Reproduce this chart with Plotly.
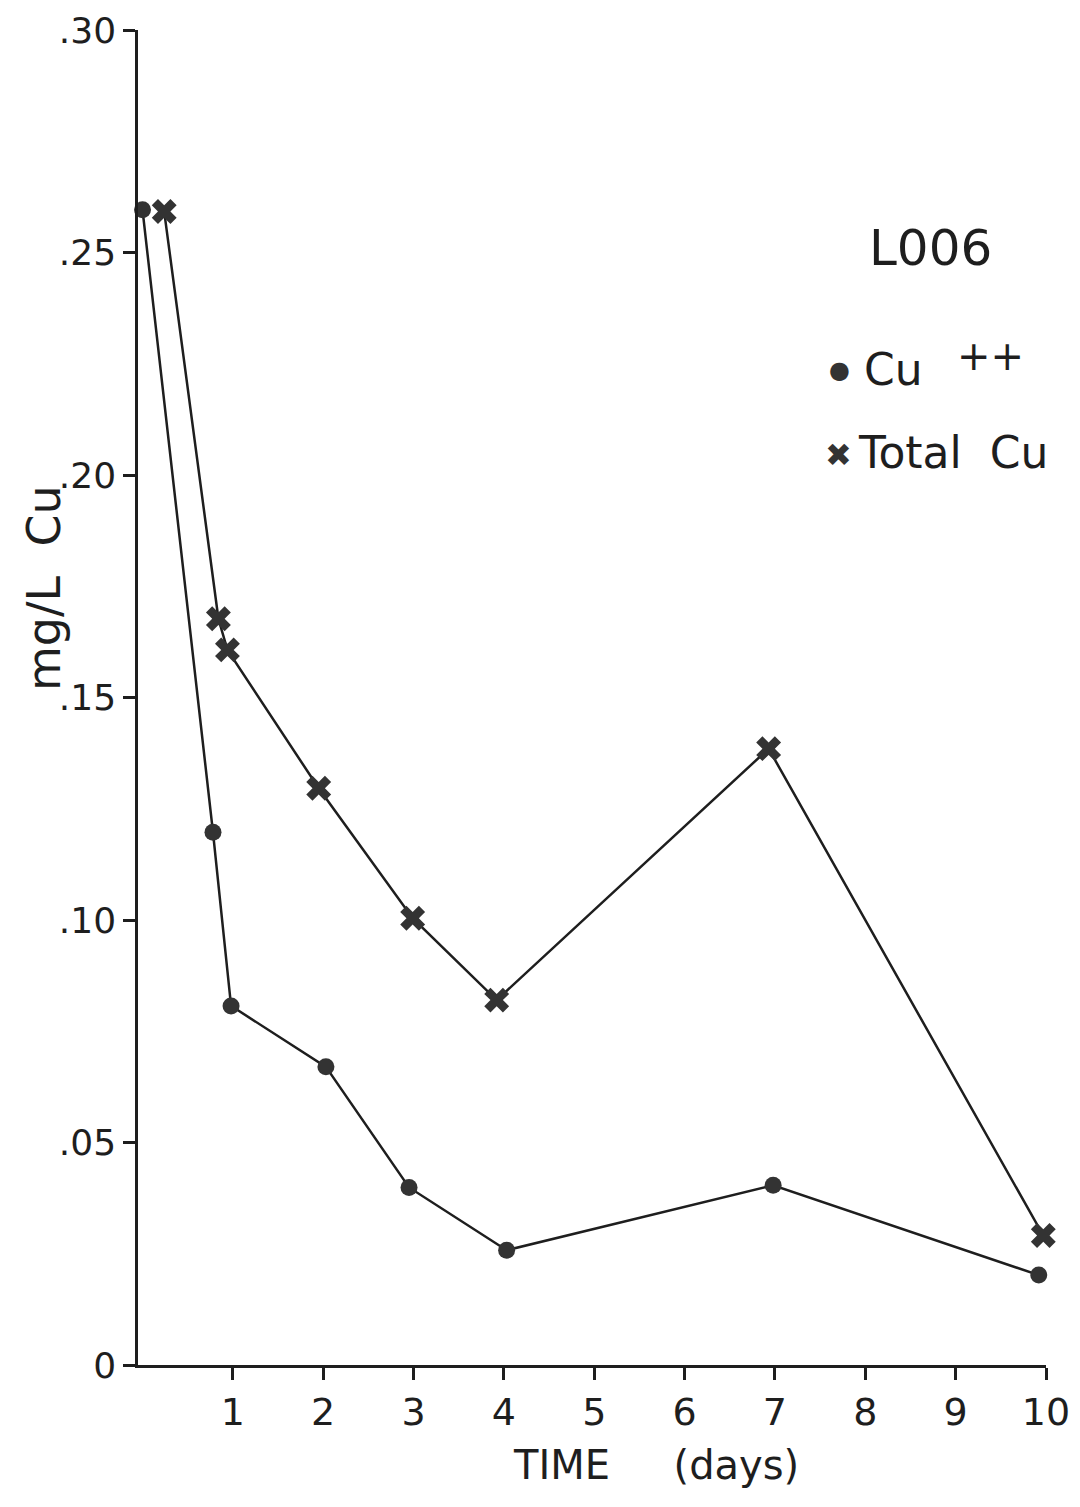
import plotly.graph_objects as go

# ---- data ----
cu_x = [0.0, 0.78, 0.98, 2.03, 2.95, 4.03, 6.98, 9.92]
cu_y = [0.2596, 0.1197, 0.0807, 0.0670, 0.0399, 0.0258, 0.0404, 0.0202]

tot_x = [0.24, 0.84, 0.94, 1.95, 2.99, 3.92, 6.93, 9.97]
tot_y = [0.2592, 0.1677, 0.1607, 0.1296, 0.1004, 0.0820, 0.1385, 0.0291]

x_ticks = [1, 2, 3, 4, 5, 6, 7, 8, 9, 10]
x_ticktext = ["1", "2", "3", "4", "5", "6", "7", "8", "9", "10"]
y_ticks = [0, 0.05, 0.10, 0.15, 0.20, 0.25, 0.30]
y_ticktext = ["0", ".05", ".10", ".15", ".20", ".25", ".30"]

# page body has an 8px margin; size the figure so it fits in the window
OFF = 8
W, H = 1062, 1484
PL, PR, PT, PB = 138, 1046, 30, 1365   # desired plot box in page pixels
L, R, T, B = PL - OFF, OFF + W - PR, PT - OFF, OFF + H - PB
FONT = "DejaVu Sans"
INK = "#1e1e1e"
MARK = "#333333"


def px(xp):
    return (xp - PL) / (PR - PL)


def py(yp):
    return (PB - yp) / (PB - PT)


fig = go.Figure()

fig.add_trace(go.Scatter(
    x=cu_x, y=cu_y, mode="lines+markers", name="Cu ++",
    line=dict(color=INK, width=2.5),
    marker=dict(symbol="circle", size=17, color=MARK, line=dict(width=0)),
    showlegend=False, cliponaxis=False,
))
fig.add_trace(go.Scatter(
    x=tot_x, y=tot_y, mode="lines+markers", name="Total Cu",
    line=dict(color=INK, width=2.5),
    marker=dict(symbol="x", size=22, color=MARK, line=dict(width=0)),
    showlegend=False, cliponaxis=False,
))

fig.update_layout(
    width=W, height=H,
    margin=dict(l=L, r=R, t=T, b=B, autoexpand=False),
    paper_bgcolor="white", plot_bgcolor="white",
    font=dict(family=FONT, color=INK, size=38),
    showlegend=False,
    xaxis=dict(
        range=[-0.05, 10.0], showgrid=False, zeroline=False, automargin=False,
        showline=True, linecolor=INK, linewidth=2.5,
        ticks="outside", ticklen=12, tickwidth=2.5, tickcolor=INK,
        tickvals=x_ticks, ticktext=x_ticktext, ticklabeloverflow="allow",
        tickfont=dict(family=FONT, size=38, color=INK),
    ),
    yaxis=dict(
        range=[0, 0.30], showgrid=False, zeroline=False, automargin=False,
        showline=True, linecolor=INK, linewidth=2.5,
        ticks="outside", ticklen=12, tickwidth=2.5, tickcolor=INK,
        tickvals=y_ticks, ticktext=y_ticktext, ticklabeloverflow="allow",
        tickfont=dict(family=FONT, size=36, color=INK),
    ),
)

ann = [
    dict(text="mg/L\u00a0\u00a0Cu", x=px(44), y=py(588), textangle=-90,
         font=dict(size=46)),
    dict(text="TIME\u00a0\u00a0\u00a0\u00a0\u00a0(days)", x=px(656), y=py(1490),
         yanchor="bottom", font=dict(size=40)),
    dict(text="L006", x=px(930), y=py(248), font=dict(size=50)),
    dict(text="\u25cf", x=px(839), y=py(370), font=dict(size=24, color=MARK)),
    dict(text="Cu", x=px(862), y=py(370), xanchor="left", font=dict(size=44)),
    dict(text="++", x=px(955), y=py(356), xanchor="left", font=dict(size=40)),
    dict(text="\u2716", x=px(838), y=py(455), font=dict(size=32, color=MARK)),
    dict(text="Total\u00a0\u00a0Cu", x=px(856), y=py(453), xanchor="left",
         font=dict(size=44)),
]
for a in ann:
    a.setdefault("xanchor", "center")
    a.setdefault("yanchor", "middle")
    fig.add_annotation(xref="paper", yref="paper", showarrow=False, **a)

fig.write_html("out.html")
